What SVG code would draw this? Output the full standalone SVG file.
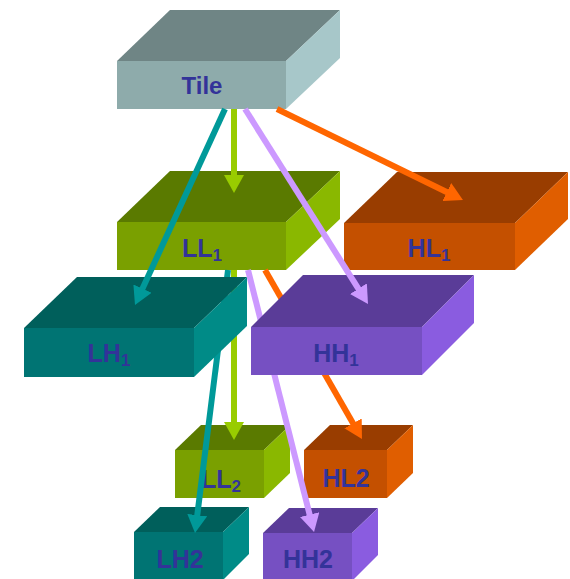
<svg xmlns="http://www.w3.org/2000/svg" width="570" height="579" viewBox="0 0 570 579">
<defs>
<style>
.tile .top{fill:#6F8585}.tile .front{fill:#8EABAB}.tile .side{fill:#A7C7C9}
.ll .top{fill:#5A7A00}.ll .front{fill:#7AA000}.ll .side{fill:#8AB800}
.hl .top{fill:#993D00}.hl .front{fill:#C45000}.hl .side{fill:#E05E00}
.lh .top{fill:#005F5B}.lh .front{fill:#007473}.lh .side{fill:#008B87}
.hh .top{fill:#5A3C98}.hh .front{fill:#7650C2}.hh .side{fill:#8A5CE0}
.lbl{font-family:"Liberation Sans",Arial,sans-serif;font-weight:bold;font-size:25px;fill:#333399;text-anchor:middle}
.sub{font-size:17px}
.c{fill:none;stroke-width:6}
.teal{stroke:#009999}.lime{stroke:#99CC00}.lav{stroke:#CC99FF}.orng{stroke:#FF6600}
</style>
<marker id="aTeal" markerUnits="userSpaceOnUse" markerWidth="18" markerHeight="20" refX="6" refY="10" orient="auto"><path d="M0,0 L18,10 L0,20 z" fill="#009999"/></marker>
<marker id="aLime" markerUnits="userSpaceOnUse" markerWidth="18" markerHeight="20" refX="6" refY="10" orient="auto"><path d="M0,0 L18,10 L0,20 z" fill="#99CC00"/></marker>
<marker id="aLav" markerUnits="userSpaceOnUse" markerWidth="18" markerHeight="20" refX="6" refY="10" orient="auto"><path d="M0,0 L18,10 L0,20 z" fill="#CC99FF"/></marker>
<marker id="aOrng" markerUnits="userSpaceOnUse" markerWidth="18" markerHeight="20" refX="6" refY="10" orient="auto"><path d="M0,0 L18,10 L0,20 z" fill="#FF6600"/></marker>
</defs>
<rect width="570" height="579" fill="#FFFFFF"/>

<g id="node-LL2" class="ll">
<polygon class="top" points="175,450 201,425 290,425 264,450"/>
<polygon class="side" points="264,450 290,425 290,473 264,498"/>
<rect class="front" x="175" y="450" width="89" height="48"/>
<text class="lbl" x="221" y="488">LL<tspan class="sub" dy="4">2</tspan></text>
</g>
<g id="node-HL2" class="hl">
<polygon class="top" points="304,450 330,425 413,425 387,450"/>
<polygon class="side" points="387,450 413,425 413,473 387,498"/>
<rect class="front" x="304" y="450" width="83" height="48"/>
<text class="lbl" x="346" y="487">HL2</text>
</g>
<g id="node-LH2" class="lh">
<polygon class="top" points="134,532 160,507 249,507 223,532"/>
<polygon class="side" points="223,532 249,507 249,554 223,580"/>
<rect class="front" x="134" y="532" width="89" height="48"/>
<text class="lbl" x="180" y="568">LH2</text>
</g>
<g id="node-HH2" class="hh">
<polygon class="top" points="263,533 289,508 378,508 352,533"/>
<polygon class="side" points="352,533 378,508 378,555 352,581"/>
<rect class="front" x="263" y="533" width="89" height="48"/>
<text class="lbl" x="308" y="568">HH2</text>
</g>

<g id="node-LL1" class="ll">
<polygon class="top" points="117,222 170,171 340,171 286,222"/>
<polygon class="side" points="286,222 340,171 340,219 286,270"/>
<rect class="front" x="117" y="222" width="169" height="48"/>
<text class="lbl" x="202" y="257">LL<tspan class="sub" dy="4">1</tspan></text>
</g>

<g id="connectors-from-LL1">
<line class="c teal" x1="228" y1="270" x2="196.5" y2="521.1" marker-end="url(#aTeal)"/>
<line class="c lime" x1="234" y1="270" x2="234" y2="428" marker-end="url(#aLime)"/>
<line class="c lav" x1="248" y1="270" x2="311.1" y2="520.4" marker-end="url(#aLav)"/>
<line class="c orng" x1="265" y1="270" x2="356" y2="428.6" marker-end="url(#aOrng)"/>
</g>

<g id="node-LH1" class="lh">
<polygon class="top" points="24,328 77,277 247,277 194,328"/>
<polygon class="side" points="194,328 247,277 247,326 194,377"/>
<rect class="front" x="24" y="328" width="170" height="49"/>
<text class="lbl" x="109" y="362">LH<tspan class="sub" dy="4">1</tspan></text>
</g>
<g id="node-HH1" class="hh">
<polygon class="top" points="251,327 303,275 474,275 422,327"/>
<polygon class="side" points="422,327 474,275 474,323 422,375"/>
<rect class="front" x="251" y="327" width="171" height="48"/>
<text class="lbl" x="336" y="362">HH<tspan class="sub" dy="4">1</tspan></text>
</g>
<g id="node-HL1" class="hl">
<polygon class="top" points="344,223 397,172 568,172 515,223"/>
<polygon class="side" points="515,223 568,172 568,219 515,270"/>
<rect class="front" x="344" y="223" width="171" height="47"/>
<text class="lbl" x="429" y="257">HL<tspan class="sub" dy="4">1</tspan></text>
</g>

<g id="node-Tile" class="tile">
<polygon class="top" points="117,61 170,10 340,10 286,61"/>
<polygon class="side" points="286,61 340,10 340,58 286,109"/>
<rect class="front" x="117" y="61" width="169" height="48"/>
<text class="lbl" x="202" y="94" style="font-size:24px">Tile</text>
</g>

<g id="connectors-from-Tile">
<line class="c teal" x1="225" y1="109" x2="140" y2="294.1" marker-end="url(#aTeal)"/>
<line class="c lime" x1="234" y1="109" x2="234" y2="181" marker-end="url(#aLime)"/>
<line class="c lav" x1="245" y1="109" x2="361.6" y2="293.8" marker-end="url(#aLav)"/>
<line class="c orng" x1="277" y1="109" x2="452.2" y2="194.7" marker-end="url(#aOrng)"/>
</g>
</svg>
